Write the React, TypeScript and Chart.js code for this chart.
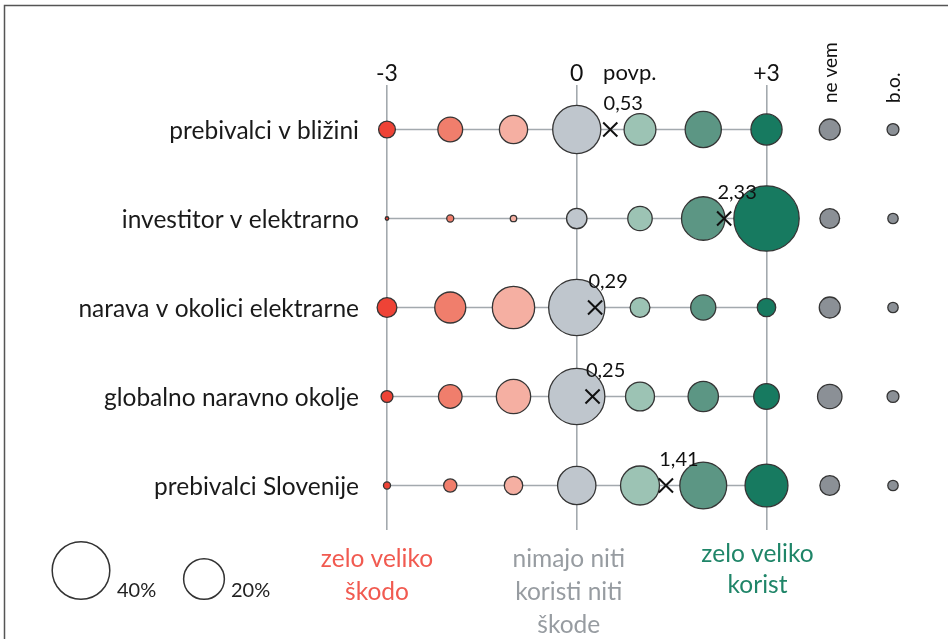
import React, { useEffect, useRef } from 'react';
import { Chart, registerables } from 'chart.js';

Chart.register(...registerables);

// ---------- data ----------
const categories = [
  'prebivalci v bližini',
  'investitor v elektrarno',
  'narava v okolici elektrarne',
  'globalno naravno okolje',
  'prebivalci Slovenije',
];
// answer levels: -3..+3, then "ne vem" (4) and "b.o." (5)
const levels = [-3, -2, -1, 0, 1, 2, 3, 4, 5];
const tickValues = [-3, 0, 3];
const tickLabels = ['-3', '0', '+3'];
const meanHeader = 'povp.';
const extraColumns = [
  { value: 4, label: 'ne vem' },
  { value: 5, label: 'b.o.' },
];
// shares (%) per answer level, same order as `levels`
const prebivalciVBlizini = [3.4, 7.4, 9.6, 27.9, 12.2, 15.8, 11.7, 5.3, 1.7];
const investitorVElektrarno = [0.15, 0.6, 0.5, 5.0, 7.2, 22.8, 51.5, 4.7, 1.3];
const naravaVOkolici = [4.7, 11.6, 21.6, 38.1, 4.7, 7.6, 4.1, 5.3, 1.3];
const globalnoOkolje = [1.7, 6.7, 14.2, 38.1, 10.1, 11.1, 7.9, 7.2, 1.7];
const prebivalciSlovenije = [0.6, 2.1, 4.1, 17.7, 18.3, 26.5, 22.2, 4.7, 1.3];
const rows = [prebivalciVBlizini, investitorVElektrarno, naravaVOkolici, globalnoOkolje, prebivalciSlovenije];
const means = [0.53, 2.33, 0.29, 0.25, 1.41];
const legendSizes = [40, 20];
const harmLabel = ['zelo veliko', 'škodo'];
const neutralLabel = ['nimajo niti', 'koristi niti', 'škode'];
const benefitLabel = ['zelo veliko', 'korist'];

// ---------- style ----------
const FONT = 'Lato, "Open Sans", sans-serif';
const levelColors = ['#ee4336', '#f07e6c', '#f5afa2', '#bfc6cd', '#9cc3b4', '#5c9684', '#177a60', '#8b9096', '#8b9096'];
const GRID = '#a3a9ae';
const R40 = 28.8;
const radiusFor = (p: number) => R40 * Math.sqrt(p / 40);

const overlay = {
  id: 'overlay',
  afterDraw(chart: any) {
    const ctx = chart.ctx as CanvasRenderingContext2D;
    const xs = chart.scales.x;
    ctx.save();
    // frame
    ctx.strokeStyle = '#555';
    ctx.lineWidth = 1.5;
    ctx.beginPath();
    ctx.moveTo(4.5, 639);
    ctx.lineTo(4.5, 5.5);
    ctx.lineTo(948, 5.5);
    ctx.stroke();

    ctx.fillStyle = '#111';
    ctx.font = `22px ${FONT}`;
    ctx.textBaseline = 'middle';
    ctx.textAlign = 'center';
    ctx.fillText(meanHeader, xs.getPixelForValue(0) + 53, 73);

    ctx.font = `19px ${FONT}`;
    extraColumns.forEach((c) => {
      ctx.save();
      ctx.translate(xs.getPixelForValue(c.value) + 1, 103);
      ctx.rotate(-Math.PI / 2);
      ctx.textAlign = 'left';
      ctx.textBaseline = 'middle';
      ctx.fillText(c.label, 0, 0);
      ctx.restore();
    });

    // mean labels
    const meanMeta = chart.getDatasetMeta(chart.data.datasets.length - 1);
    ctx.font = `20px ${FONT}`;
    meanMeta.data.forEach((pt: any, i: number) => {
      ctx.fillText(means[i].toFixed(2).replace('.', ','), pt.x + 13, pt.y - 26);
    });

    // bottom labels
    ctx.font = `24.5px ${FONT}`;
    ctx.textBaseline = 'alphabetic';
    ctx.textAlign = 'center';
    const drawLines = (lines: string[], x: number, y0: number, dy: number, color: string) => {
      ctx.fillStyle = color;
      lines.forEach((l, i) => ctx.fillText(l, x, y0 + i * dy));
    };
    drawLines(harmLabel, xs.getPixelForValue(-3) - 10, 567, 33, '#f15a50');
    drawLines(neutralLabel, xs.getPixelForValue(0) - 8, 567, 33, '#979ca1');
    drawLines(benefitLabel, xs.getPixelForValue(3) - 9, 562, 31, '#1f8568');

    // size legend
    const legendPos = [
      { x: 81, y: 570.5, tx: 117 },
      { x: 204, y: 579, tx: 231 },
    ];
    ctx.strokeStyle = '#333';
    ctx.lineWidth = 1.5;
    ctx.font = `20px ${FONT}`;
    ctx.textAlign = 'left';
    ctx.fillStyle = '#222';
    legendSizes.forEach((s, i) => {
      const p = legendPos[i];
      ctx.beginPath();
      ctx.arc(p.x, p.y, radiusFor(s), 0, Math.PI * 2);
      ctx.stroke();
      ctx.fillText(`${s}%`, p.tx, 597);
    });
    ctx.restore();
  },
};

export default function App() {
  const ref = useRef<HTMLCanvasElement>(null);
  useEffect(() => {
    if (!ref.current) return;
    const lineSets = categories.map((_, i) => ({
      type: 'line',
      data: [
        { x: -3, y: i },
        { x: 3, y: i },
      ],
      borderColor: GRID,
      borderWidth: 1.6,
      pointRadius: 0,
      order: 3,
      clip: false,
    }));
    const bubbleSets = levels.map((lv, j) => ({
      type: 'bubble',
      data: rows.map((row, i) => ({ x: lv, y: i, r: radiusFor(row[j]) })),
      backgroundColor: levelColors[j],
      borderColor: '#353535',
      borderWidth: 1.3,
      order: 2,
      clip: false,
    }));
    const meanSet = {
      type: 'scatter',
      data: means.map((m, i) => ({ x: m, y: i })),
      pointStyle: 'crossRot',
      pointRadius: 10,
      borderColor: '#111',
      backgroundColor: '#111',
      pointBorderWidth: 2,
      borderWidth: 2,
      order: 1,
      clip: false,
    };
    const chart = new Chart(ref.current, {
      type: 'bubble',
      data: { datasets: [...lineSets, ...bubbleSets, meanSet] as any },
      options: {
        animation: false,
        responsive: false,
        events: [],
        layout: { padding: { left: 0, right: 55, top: 55, bottom: 109 } },
        plugins: { legend: { display: false }, tooltip: { enabled: false } },
        scales: {
          x: {
            type: 'linear',
            position: 'top',
            min: -3,
            max: 5,
            bounds: 'data',
            afterBuildTicks: (s: any) => {
              s.ticks = tickValues.map((v) => ({ value: v }));
            },
            afterFit: (s: any) => {
              s.height = 30;
            },
            ticks: {
              autoSkip: false,
              maxRotation: 0,
              padding: 0,
              color: '#111',
              font: { family: FONT, size: 23, lineHeight: 1 },
              callback: (v: any) => tickLabels[tickValues.indexOf(Number(v))],
            },
            grid: { color: GRID, lineWidth: 1.6, drawTicks: false },
            border: { display: false },
          },
          y: {
            type: 'linear',
            position: 'left',
            min: -0.5,
            max: 4.5,
            reverse: true,
            afterBuildTicks: (s: any) => {
              s.ticks = categories.map((_, i) => ({ value: i }));
            },
            afterFit: (s: any) => {
              s.width = 387;
            },
            ticks: {
              autoSkip: false,
              padding: 28,
              labelOffset: 2,
              color: '#1a1a1a',
              font: { family: FONT, size: 24.5 },
              callback: (v: any) => categories[Number(v)],
            },
            grid: { display: false, drawTicks: false },
            border: { display: false },
          },
        },
      },
      plugins: [overlay],
    } as any);
    return () => chart.destroy();
  }, []);
  return (
    <div style={{ position: 'fixed', left: 0, top: 0, width: 948, height: 639, background: '#fff' }}>
      <canvas ref={ref} width={948} height={639} />
    </div>
  );
}
